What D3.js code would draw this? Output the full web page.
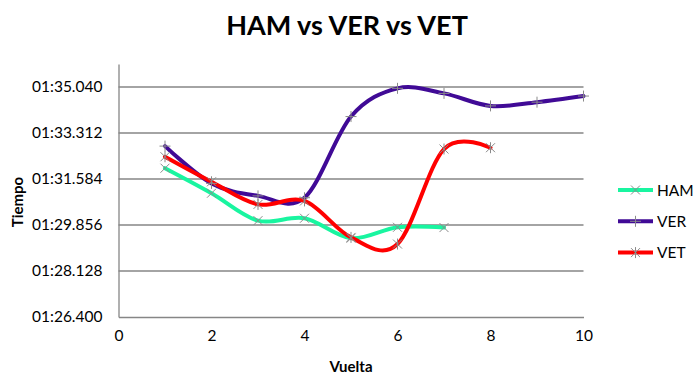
<!DOCTYPE html>
<html><head><meta charset="utf-8">
<script src="https://cdn.jsdelivr.net/npm/d3@7/dist/d3.min.js"></script>
<style>body{margin:0;background:#fff}svg{display:block}text{font-family:Lato,"Open Sans",sans-serif;fill:#000}</style>
</head><body>
<script>
// Lap times in seconds
const hamLaps = [1,2,3,4,5,6,7];
const hamTimes = [91.99,91.05,90.02,90.11,89.36,89.77,89.76];
const verLaps = [1,2,3,4,5,6,7,8,9,10];
const verTimes = [92.82,91.42,90.95,90.88,93.93,94.99,94.80,94.33,94.47,94.70];
const vetLaps = [1,2,3,4,5,6,7,8];
const vetTimes = [92.42,91.48,90.63,90.76,89.39,89.14,92.71,92.76];
const seriesNames = ["HAM","VER","VET"];
const yTicks = [86.4,88.128,89.856,91.584,93.312,95.04];
const xTicks = [0,2,4,6,8,10];

const W=696,H=381;
const svg=d3.select("body").append("svg").attr("width",W).attr("height",H);
const x=d3.scaleLinear().domain([0,10]).range([118.5,583.5]);
const y=d3.scaleLinear().domain([86.4,95.904]).range([317,64]);
const grid="#868686";

function fmt(v){const m=Math.floor(v/60);const s=v-m*60;return "0"+m+":"+(s<10?"0":"")+s.toFixed(3);}

// gridlines
svg.append("g").selectAll("line").data(yTicks.slice(1)).join("line")
 .attr("x1",x(0)).attr("x2",x(10)).attr("y1",d=>y(d)).attr("y2",d=>y(d))
 .attr("stroke",grid).attr("stroke-width",1.3);
// axes
const ya=svg.append("g").attr("transform",`translate(${x(0)},0)`)
 .call(d3.axisLeft(y).tickValues(yTicks).tickFormat(fmt).tickSize(0).tickPadding(16));
const xa=svg.append("g").attr("transform",`translate(0,${y(86.4)})`)
 .call(d3.axisBottom(x).tickValues(xTicks).tickFormat(d3.format("d")).tickSize(0).tickPadding(16));
[ya,xa].forEach(a=>{a.select(".domain").attr("stroke",grid).attr("stroke-width",1.3);
 a.selectAll("text").style("font-family","Lato, sans-serif").style("font-size","15.5px").attr("fill","#000");});
xa.selectAll("text").attr("dy","0.5em");

const colors={HAM:"#19f5a0",VER:"#400a96",VET:"#ff0000"};
const data={HAM:hamLaps.map((l,i)=>[l,hamTimes[i]]),VER:verLaps.map((l,i)=>[l,verTimes[i]]),VET:vetLaps.map((l,i)=>[l,vetTimes[i]])};
const line=d3.line().x(d=>x(d[0])).y(d=>y(d[1])).curve(d3.curveCardinal.tension(0));

function marker(g,name,cx,cy){
 const s=4.5,c="#8a8a8a";
 const p=[];
 if(name==="HAM"||name==="VET"){p.push([cx-s,cy-s,cx+s,cy+s],[cx-s,cy+s,cx+s,cy-s]);}
 if(name==="VER"){p.push([cx-s-1,cy,cx+s+1,cy],[cx,cy-s-1,cx,cy+s+1]);}
 if(name==="VET"){p.push([cx,cy-s-1,cx,cy+s+1]);}
 p.forEach(q=>g.append("line").attr("x1",q[0]).attr("y1",q[1]).attr("x2",q[2]).attr("y2",q[3]).attr("stroke",c).attr("stroke-width",1));
}

seriesNames.forEach(n=>{
 svg.append("path").attr("d",line(data[n])).attr("fill","none").attr("stroke",colors[n]).attr("stroke-width",4).attr("stroke-linecap","round").attr("stroke-linejoin","round");
});
seriesNames.forEach(n=>{
 const g=svg.append("g");
 data[n].forEach(d=>marker(g,n,x(d[0]),y(d[1])));
});

// legend
seriesNames.forEach((n,i)=>{
 const ly=190+i*31.3;
 svg.append("line").attr("x1",618).attr("x2",653).attr("y1",ly).attr("y2",ly).attr("stroke",colors[n]).attr("stroke-width",4);
 marker(svg.append("g"),n,635.5,ly);
 svg.append("text").attr("x",657).attr("y",ly).attr("dy","0.36em").style("font-size","15.5px").text(n);
});

// titles
svg.append("text").attr("x",347).attr("y",25).attr("dy","0.36em").attr("text-anchor","middle")
 .style("font-size","27px").style("font-weight","bold").text("HAM vs VER vs VET");
svg.append("text").attr("x",351).attr("y",367).attr("dy","0.36em").attr("text-anchor","middle")
 .style("font-size","15px").style("font-weight","bold").text("Vuelta");
svg.append("text").attr("transform","translate(18,202) rotate(-90)").attr("dy","0.36em").attr("text-anchor","middle")
 .style("font-size","15px").style("font-weight","bold").text("Tiempo");
</script>
</body></html>
